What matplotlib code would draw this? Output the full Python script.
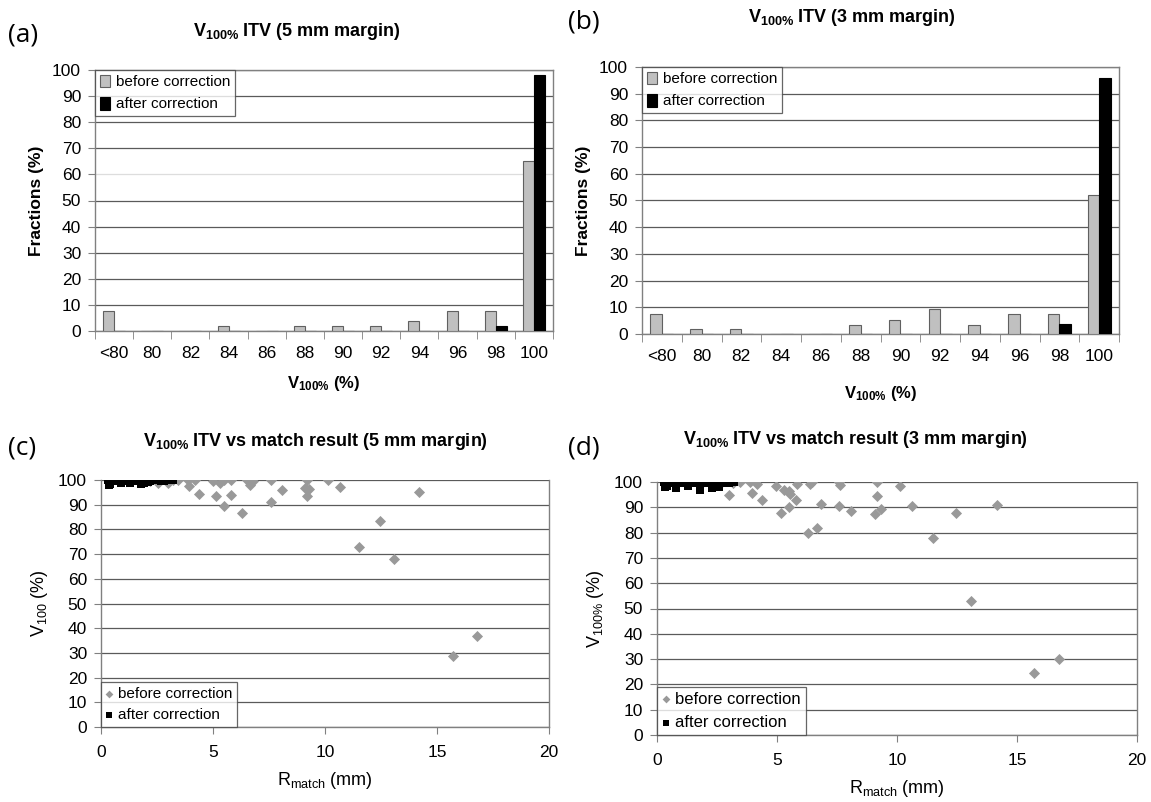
import numpy as np
import matplotlib
matplotlib.use('Agg')
import matplotlib.pyplot as plt

plt.rcParams['font.family'] = ['Liberation Sans', 'DejaVu Sans']
plt.rcParams['mathtext.fontset'] = 'custom'
plt.rcParams['mathtext.rm'] = 'Liberation Sans'
plt.rcParams['mathtext.bf'] = 'Liberation Sans:bold'
plt.rcParams['mathtext.default'] = 'regular'

# histogram data
categories = ['<80', '80', '82', '84', '86', '88', '90', '92', '94', '96', '98', '100']
before_5mm = [7.7, 0, 0, 1.9, 0, 1.9, 1.9, 1.9, 3.9, 7.7, 7.7, 65.3]
after_5mm = [0, 0, 0, 0, 0, 0, 0, 0, 0, 0, 2.0, 98.0]
before_3mm = [7.4, 1.7, 1.7, 0, 0, 3.5, 5.3, 9.4, 3.5, 7.4, 7.4, 51.9]
after_3mm = [0, 0, 0, 0, 0, 0, 0, 0, 0, 0, 3.7, 96.0]

# scatter data, 5 mm margin
r_before_5 = [1.9, 2.2, 2.56, 2.98, 3.2, 3.45, 3.87, 3.94, 4.21, 4.36, 4.98, 5.13, 5.31, 5.5,
              5.49, 5.82, 5.82, 6.29, 6.53, 6.65, 6.8, 7.59, 7.59, 8.1, 9.18, 9.1, 9.3,
              9.18, 10.13, 10.67, 11.53, 12.46, 13.07, 14.18, 15.73, 16.77]
v_before_5 = [100, 99.6, 98.6, 98.6, 100, 100, 100, 97.6, 100, 94.3, 99.6, 93.6, 98.6, 100,
              89.6, 100, 93.9, 86.5, 100, 98.1, 99.7, 100, 91.2, 95.8, 100, 96.6, 96.5,
              93.5, 100, 97.2, 72.7, 83.6, 68.2, 95.1, 28.8, 36.9]
r_after_5 = [0.3, 0.35, 0.4, 0.5, 0.6, 0.7, 0.8, 0.9, 1.0, 1.1, 1.2, 1.3, 1.4, 1.5, 1.6,
             1.7, 1.8, 1.9, 2.0, 2.1, 2.2, 2.3, 2.4, 2.5, 2.6, 2.7, 2.8, 2.9, 3.0, 3.1, 3.2]
v_after_5 = [100, 98.0, 98.5, 99.8, 99.5, 100, 100, 98.9, 100, 99.5, 99.6, 98.6, 99.8, 100,
             99.7, 99.4, 98.4, 98.6, 100, 99.3, 99.6, 100, 99.8, 100, 100, 99.7, 99.5,
             100, 100, 99.8, 100]

# scatter data, 3 mm margin
r_before_3 = [1.9, 2.2, 2.6, 2.99, 3.17, 3.44, 3.86, 3.94, 4.17, 4.38, 4.97, 5.15, 5.31, 5.49,
              5.56, 5.49, 5.79, 5.85, 6.28, 6.39, 6.47, 6.68, 6.85, 7.57, 7.61, 7.58, 8.08,
              9.18, 9.17, 9.1, 9.32, 10.14, 10.64, 11.51, 12.44, 13.07, 14.15, 15.71, 16.75]
v_before_3 = [100, 99.5, 98.8, 95.0, 99.6, 99.9, 99.9, 95.6, 99.1, 92.7, 98.5, 87.7, 97.0, 96.6,
              95.3, 90.1, 92.7, 99.3, 79.8, 99.2, 99.9, 81.9, 91.2, 100, 98.8, 90.4, 88.5,
              100, 94.5, 87.3, 89.4, 98.3, 90.6, 77.7, 87.7, 53.0, 90.9, 24.7, 30.1]
r_after_3 = [0.3, 0.35, 0.4, 0.5, 0.55, 0.7, 0.8, 0.9, 1.0, 1.1, 1.2, 1.3, 1.4, 1.5, 1.6,
             1.7, 1.78, 1.9, 2.0, 2.1, 2.2, 2.3, 2.35, 2.45, 2.6, 2.7, 2.8, 2.9, 3.0, 3.1, 3.2]
v_after_3 = [100, 98.0, 98.6, 99.5, 100, 100, 97.6, 99.5, 99.8, 100, 99.6, 98.6, 99.7, 99.6,
             100, 99.5, 97.0, 99.7, 99.8, 100, 99.6, 97.6, 98.4, 99.3, 98.2, 99.6, 100,
             99.7, 99.8, 100, 100]

W, H = 1151, 802
fig = plt.figure(figsize=(W / 100, H / 100), dpi=100)


def px_axes(x0, y0, x1, y1):
    return fig.add_axes([x0 / W, 1 - y1 / H, (x1 - x0) / W, (y1 - y0) / H])


def px_text(x, y, s, **kw):
    fig.text(x / W, 1 - y / H, s, **kw)


GRID = '#808080'


def style_axes(ax, fs):
    for s in ax.spines.values():
        s.set_color(GRID)
        s.set_linewidth(1)
    ax.set_ylim(0, 100)
    ax.set_yticks(np.arange(0, 101, 10))
    ax.yaxis.grid(True, color='#5a5a5a', lw=0.9)
    ax.set_axisbelow(True)
    ax.tick_params(axis='both', direction='out', color=GRID, length=5, labelsize=fs, pad=5)


def bar_panel(ax, before, after, xlabpad, faint60=False):
    style_axes(ax, 12.5)
    x = np.arange(len(categories))
    w = 0.29
    ax.bar(x - w, before, width=w, align='edge', color='#c0c0c0', edgecolor='#606060',
           lw=0.8, label='before correction', zorder=3)
    ax.bar(x, after, width=w, align='edge', color='black', edgecolor='black',
           lw=0.8, label='after correction', zorder=3)
    ax.set_xlim(-0.5, len(categories) - 0.5)
    ax.set_xticks(x)
    ax.set_xticklabels(categories)
    ax.set_xticks(np.arange(-0.5, len(categories), 1), minor=True)
    ax.tick_params(axis='x', which='major', length=0, pad=11)
    ax.tick_params(axis='x', which='minor', direction='out', color=GRID, length=6)
    if faint60:
        ax.get_ygridlines()[6].set_color('#dddddd')
    ax.set_ylabel('Fractions (%)', fontsize=12.5, fontweight='bold', labelpad=6)
    ax.set_xlabel(r'V$_{100\%}$ (%)', fontsize=12, fontweight='bold', labelpad=xlabpad)
    leg = ax.legend(loc='upper left', fontsize=11, frameon=True, fancybox=False,
                    borderaxespad=0, handlelength=0.7, handleheight=0.9,
                    handletextpad=0.4, borderpad=0.3, labelspacing=0.5)
    leg.get_frame().set_edgecolor('#404040')
    leg.get_frame().set_linewidth(0.9)


def scatter_panel(ax, rb, vb, ra, va, ylabel, legfs):
    style_axes(ax, 12.5)
    ax.spines['top'].set_visible(False)
    ax.scatter(rb, vb, marker='D', s=32, color='#999999', lw=0, label='before correction', zorder=3)
    ax.scatter(ra, va, marker='s', s=30, color='black', lw=0, label='after correction', zorder=4)
    ax.set_xlim(0, 20)
    ax.set_xticks([0, 5, 10, 15, 20])
    ax.tick_params(axis='x', pad=8)
    ax.set_ylabel(ylabel, fontsize=13, labelpad=6)
    ax.set_xlabel(r'R$_{match}$ (mm)', fontsize=13, labelpad=7)
    leg = ax.legend(loc='lower left', fontsize=legfs, frameon=True, fancybox=False,
                    borderaxespad=0, handlelength=0.5, handletextpad=0.3,
                    borderpad=0.3, labelspacing=0.5, markerscale=0.7)
    leg.get_frame().set_edgecolor('#404040')
    leg.get_frame().set_linewidth(0.9)


ax_a = px_axes(95, 70, 553, 331)
bar_panel(ax_a, before_5mm, after_5mm, 9, faint60=True)
ax_b = px_axes(642, 67, 1119, 334)
bar_panel(ax_b, before_3mm, after_3mm, 14)
ax_c = px_axes(101, 480, 549, 727)
scatter_panel(ax_c, r_before_5, v_before_5, r_after_5, v_after_5, r'V$_{100}$ (%)', 11)
ax_d = px_axes(657, 482, 1137, 735)
scatter_panel(ax_d, r_before_3, v_before_3, r_after_3, v_after_3, r'V$_{100\%}$ (%)', 12)

titles = [r'V$_{\mathbf{100\%}}$ ITV (5 mm margin)',
          r'V$_{\mathbf{100\%}}$ ITV (3 mm margin)',
          r'V$_{\mathbf{100\%}}$ ITV vs match result (5 mm margin)',
          r'V$_{\mathbf{100\%}}$ ITV vs match result (3 mm margin)']
for t, (x, y) in zip(titles, [(297, 32), (852, 18), (315, 442), (855, 440)]):
    px_text(x, y, t, fontsize=13, fontweight='bold', ha='center', va='center')

for lab, (x, y) in zip(['(a)', '(b)', '(c)', '(d)'],
                       [(8, 35), (568, 22), (8, 448), (568, 448)]):
    px_text(x, y, lab, fontsize=19, family=['Open Sans', 'DejaVu Sans'], va='center', ha='left')

fig.savefig('out.png', dpi=100, facecolor='white')
